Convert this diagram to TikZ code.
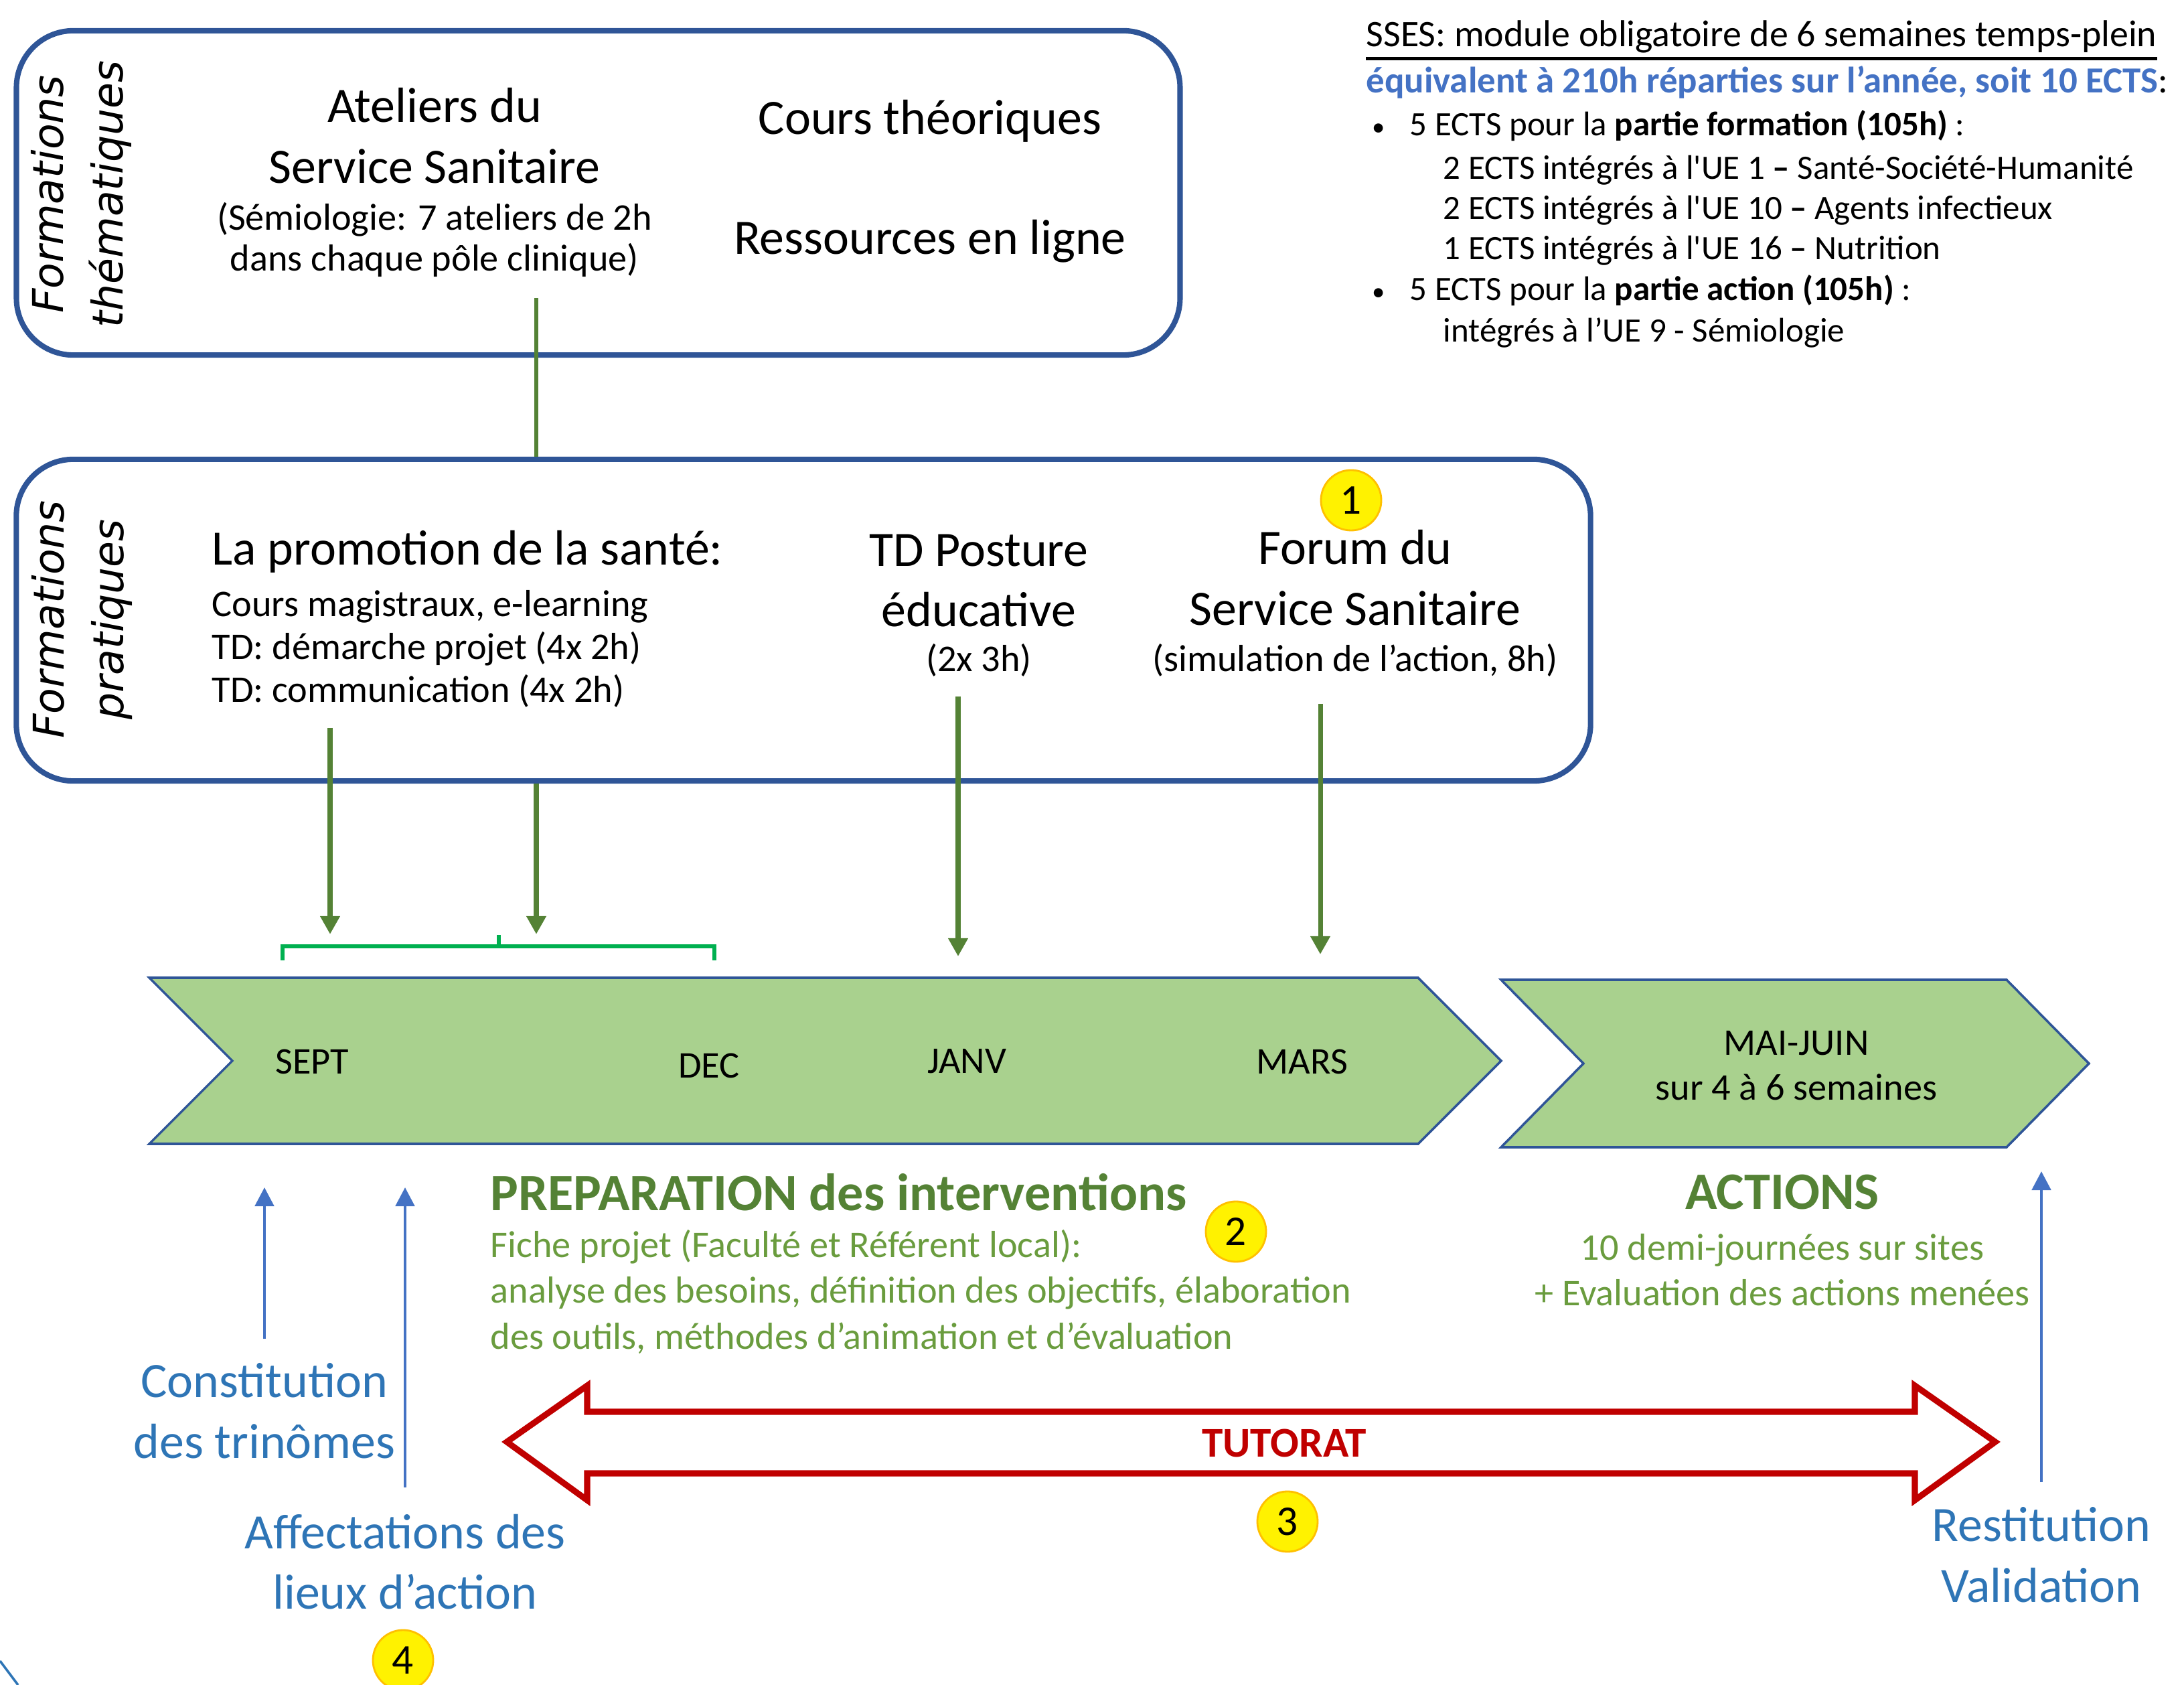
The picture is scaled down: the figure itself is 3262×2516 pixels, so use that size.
\documentclass[tikz,border=0pt]{standalone}
\usepackage{fontspec}
\setmainfont{Carlito}
\newfontfamily\sidefont{DejaVu Sans}
\usepackage{tikz}
\usetikzlibrary{arrows.meta}

\definecolor{boxblue}{HTML}{2F5597}
\definecolor{linkgreen}{HTML}{548235}
\definecolor{brackgreen}{HTML}{00B050}
\definecolor{chevgreen}{HTML}{A9D18E}
\definecolor{upblue}{HTML}{4472C4}
\definecolor{labblue}{HTML}{2E75B6}
\definecolor{tutred}{HTML}{C00000}
\definecolor{numorange}{HTML}{FFC000}
\definecolor{subgreen}{HTML}{6A9C3E}

\newcommand{\bigsz}{\fontsize{21}{25.8}\selectfont}
\newcommand{\midsz}{\fontsize{16}{18.3}\selectfont}
\newcommand{\infosz}{\fontsize{14.5}{17.5}\selectfont}
\newcommand{\smallbul}{\makebox[0.56cm][l]{\fontsize{11}{11}\selectfont\textbullet}}

\tikzstyle{formbox} = [draw=boxblue, line width=2.3pt, rounded corners=0.85cm]
\tikzstyle{side} = [rotate=90, align=center, inner sep=0pt, font=\sidefont\itshape\fontsize{18}{25.3}\selectfont]
\tikzstyle{big} = [align=center, inner sep=0pt, font=\bigsz]
\tikzstyle{mid} = [align=center, inner sep=0pt, font=\midsz]
\tikzstyle{info} = [anchor=base west, inner sep=0pt, font=\infosz]
\tikzstyle{bold} = [align=center, inner sep=0pt, font=\bfseries\fontsize{22.3}{26}\selectfont]
\tikzstyle{link} = [linkgreen, line width=1.5pt]
\tikzstyle{down} = [linkgreen, line width=2pt, -{Triangle[length=0.27cm,width=0.28cm]}]
\tikzstyle{up} = [upblue, line width=1.4pt, -{Triangle[length=0.28cm,width=0.28cm]}]
\tikzstyle{brack} = [brackgreen, line width=1.8pt]
\tikzstyle{chevron} = [fill=chevgreen, draw=boxblue, line width=1pt, line join=miter]
\tikzstyle{tutorat} = [draw=tutred, fill=white, line width=2.6pt, line join=miter]
\tikzstyle{num} = [circle, draw=numorange, fill=yellow, line width=0.8pt, minimum size=0.9cm, inner sep=0pt, font=\fontsize{18}{18}\selectfont]

\begin{document}
\begin{tikzpicture}[x=0.01cm,y=-0.01cm]
\useasboundingbox (0,0) rectangle (3262,2516);

% formations thematiques
\node[formbox, minimum width=17.37cm, minimum height=4.84cm] (theme) at (893.5,288) {};
\node[side] (themelab) at (121,290) {Formations\\thématiques};
\node[big] (atel) at (649,203) {Ateliers du\\Service Sanitaire};
\node[mid, font=\fontsize{16}{17.6}\selectfont] (atelsub) at (649,358) {(Sémiologie: 7 ateliers de 2h\\dans chaque pôle clinique)};
\node[big] (cours) at (1389,181) {Cours théoriques};
\node[big] (ress) at (1389,360) {Ressources en ligne};

% formations pratiques
\node[formbox, minimum width=23.5cm, minimum height=4.8cm] (prat) at (1200,926) {};
\node[side] (pratlab) at (123,925) {Formations\\pratiques};
\node[big, anchor=west] (promo) at (316,824) {La promotion de la santé:};
\node[mid, align=left, anchor=west] (promosub) at (316,969) {Cours magistraux, e-learning\\TD: démarche projet (4x 2h)\\TD: communication (4x 2h)};
\node[big] (post) at (1462,867) {TD Posture\\éducative};
\node[mid] (postsub) at (1462,986) {(2x 3h)};
\node[big] (forum) at (2024,863) {Forum du\\Service Sanitaire};
\node[mid] (forumsub) at (2024,986) {(simulation de l’action, 8h)};
\node[num] (n1) at (2018,747) {1};

\coordinate (linktop) at (801,445);
\draw[link] (linktop) -- (linktop |- prat.north);

% arrows to the calendar
\coordinate (s1) at (493,1087);
\coordinate (e1) at (493,1395);
\coordinate (e2) at (801,1395);
\coordinate (s3) at (1431,1040);
\coordinate (e3) at (1431,1428);
\coordinate (s4) at (1972,1051);
\coordinate (e4) at (1972,1425);
\draw[down] (s1) -- (e1);
\draw[down] (e2 |- prat.south) -- (e2);
\draw[down] (s3) -- (e3);
\draw[down] (s4) -- (e4);

\draw[brack] (422,1434) -- (422,1413) -- (1067,1413) -- (1067,1434);
\draw[brack] (745,1413) -- (745,1396);

% calendar
\draw[chevron] (223,1460) -- (2118,1460) -- (2242,1584) -- (2118,1708) -- (223,1708) -- (347,1584) -- cycle;
\draw[chevron] (2242,1463) -- (2997,1463) -- (3120,1588) -- (2997,1713) -- (2242,1713) -- (2365,1588) -- cycle;
\node[mid] (sept) at (466,1585) {SEPT};
\node[mid] (dec) at (1059,1591) {DEC};
\node[mid] (janv) at (1444,1585) {JANV};
\node[mid] (mars) at (1945,1585) {MARS};
\node[mid, font=\fontsize{16}{19}\selectfont] (mai) at (2683,1591) {MAI-JUIN\\sur 4 à 6 semaines};

% preparation / actions
\node[bold, linkgreen, anchor=west] (prep) at (732,1780) {PREPARATION des interventions};
\node[mid, subgreen, align=left, anchor=west, font=\fontsize{16}{19.5}\selectfont] (prepsub) at (732,1929) {Fiche projet (Faculté et Référent local):\\analyse des besoins, définition des objectifs, élaboration\\des outils, méthodes d’animation et d’évaluation};
\node[num] (n2) at (1846,1839) {2};
\node[bold, linkgreen] (act) at (2662,1780) {ACTIONS};
\node[mid, subgreen, font=\fontsize{16}{19.3}\selectfont] (actsub) at (2662,1896) {10 demi-journées sur sites\\+ Evaluation des actions menées};

% etapes
\node[big, labblue] (const) at (395,2107) {Constitution\\des trinômes};
\node[big, labblue] (affect) at (605,2332) {Affectations des\\lieux d’action};
\node[big, labblue] (restit) at (3049,2322) {Restitution\\Validation};
\coordinate (u1s) at (395,1999);
\coordinate (u1e) at (395,1773);
\coordinate (u2s) at (605,2221);
\coordinate (u2e) at (605,1773);
\coordinate (u3s) at (3049,2213);
\coordinate (u3e) at (3049,1749);
\draw[up] (u1s) -- (u1e);
\draw[up] (u2s) -- (u2e);
\draw[up] (u3s) -- (u3e);
\node[num] (n4) at (602,2479) {4};

% tutorat
\draw[tutorat] (757,2153) -- (877,2069) -- (877,2108) -- (2860,2108) -- (2860,2069) -- (2980,2153) -- (2860,2240) -- (2860,2200) -- (877,2200) -- (877,2240) -- cycle;
\node[bold, tutred, font=\bfseries\fontsize{18}{20}\selectfont] (tut) at (1918,2155) {TUTORAT};
\node[num] (n3) at (1923,2272) {3};

% SSES
\node[info, font=\fontsize{15.9}{18}\selectfont] (i1) at (2040,70) {SSES: module obligatoire de 6 semaines temps-plein};
\draw[line width=1.3pt] ([yshift=-5pt]i1.base west) -- ([yshift=-5pt]i1.base east);
\node[info, font=\fontsize{15.6}{18}\selectfont] (i2) at (2040,139) {{\color{upblue}\bfseries équivalent à 210h réparties sur l’année, soit 10 ECTS}:};
\node[info] (i3) at (2049,203) {\smallbul 5 ECTS pour la \textbf{partie formation (105h)} :};
\node[info] (i4) at (2155,268) {2 ECTS intégrés à l\textquotesingle UE 1 {\bfseries –} Santé-Société-Humanité};
\node[info] (i5) at (2155,328) {2 ECTS intégrés à l\textquotesingle UE 10 {\bfseries –} Agents infectieux};
\node[info] (i6) at (2155,388) {1 ECTS intégrés à l\textquotesingle UE 16 {\bfseries –} Nutrition};
\node[info] (i7) at (2049,449) {\smallbul 5 ECTS pour la \textbf{partie action (105h)} :};
\node[info] (i8) at (2155,511) {intégrés à l’UE 9 - Sémiologie};

\draw[labblue, line width=1pt] (0,2480) -- (27,2516);
\end{tikzpicture}
\end{document}
